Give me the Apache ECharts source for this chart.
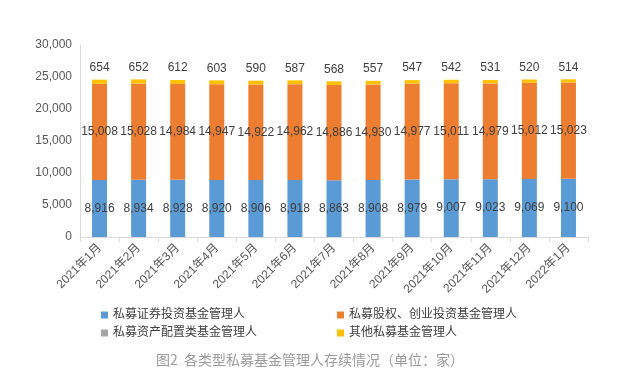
<!DOCTYPE html>
<html><head><meta charset="utf-8">
<script src="https://cdn.jsdelivr.net/npm/echarts@6/dist/echarts.min.js"></script>
<style>html,body{margin:0;padding:0;background:#fff}#c{width:620px;height:384px}</style>
</head><body><div id="c"></div>
<script>
const categories = ['2021年1月','2021年2月','2021年3月','2021年4月','2021年5月','2021年6月','2021年7月','2021年8月','2021年9月','2021年10月','2021年11月','2021年12月','2022年1月'];
const securities = [8916,8934,8928,8920,8906,8918,8863,8908,8979,9007,9023,9069,9100];
const equity = [15008,15028,14984,14947,14922,14962,14886,14930,14977,15011,14979,15012,15023];
const assetAlloc = [9,9,9,9,9,9,9,9,9,9,9,9,9];
const others = [654,652,612,603,590,587,568,557,547,542,531,520,514];
const seriesNames = ['私募证券投资基金管理人','私募股权、创业投资基金管理人','私募资产配置类基金管理人','其他私募基金管理人'];
const yTicks = {min:0, max:30000, interval:5000};
const caption = '图2  各类型私募基金管理人存续情况（单位：家）';

const fmt = v => Number(v).toLocaleString('en-US');
const font = '"Liberation Sans", "Noto Sans CJK SC", sans-serif';
const lbl = {show:true, color:'#404040', fontSize:12, fontFamily:font, formatter:p=>fmt(p.value)};
const chart = echarts.init(document.getElementById('c'));
chart.setOption({
  animation:false,
  textStyle:{fontFamily:font},
  grid:{left:80, right:32, top:45, bottom:147},
  xAxis:{type:'category', data:categories,
    axisLine:{lineStyle:{color:'#d9d9d9'}},
    axisTick:{show:true, length:5, lineStyle:{color:'#d9d9d9'}},
    axisLabel:{rotate:45, color:'#595959', fontSize:12, margin:9, interval:0}},
  yAxis:{type:'value', min:yTicks.min, max:yTicks.max, interval:yTicks.interval,
    axisLine:{show:true, lineStyle:{color:'#d9d9d9'}},
    splitLine:{show:false},
    axisLabel:{color:'#595959', fontSize:12, margin:8, formatter:v=>fmt(v)}},
  legend:[
    {left:96, top:304, orient:'vertical', itemGap:6, itemWidth:7, itemHeight:7, icon:'rect',
     data:[seriesNames[0], seriesNames[2]], textStyle:{color:'#404040', fontSize:12}},
    {left:332, top:304, orient:'vertical', itemGap:6, itemWidth:7, itemHeight:7, icon:'rect',
     data:[seriesNames[1], seriesNames[3]], textStyle:{color:'#404040', fontSize:12}}
  ],
  graphic:[{type:'text', left:'center', top:353,
    style:{text:caption, fill:'#9a9a9a', fontSize:14, fontFamily:'"Noto Sans CJK SC", sans-serif'}}],
  series:[
    {name:seriesNames[0], type:'bar', stack:'s', data:securities, barWidth:15, itemStyle:{color:'#5B9BD5'},
     label:Object.assign({position:'inside'}, lbl)},
    {name:seriesNames[1], type:'bar', stack:'s', data:equity, itemStyle:{color:'#ED7D31'},
     label:Object.assign({position:'inside'}, lbl)},
    {name:seriesNames[2], type:'bar', stack:'s', data:assetAlloc, itemStyle:{color:'#A5A5A5'}},
    {name:seriesNames[3], type:'bar', stack:'s', data:others, itemStyle:{color:'#FFC000'},
     label:Object.assign({position:'top', distance:6}, lbl)}
  ]
});
</script></body></html>
